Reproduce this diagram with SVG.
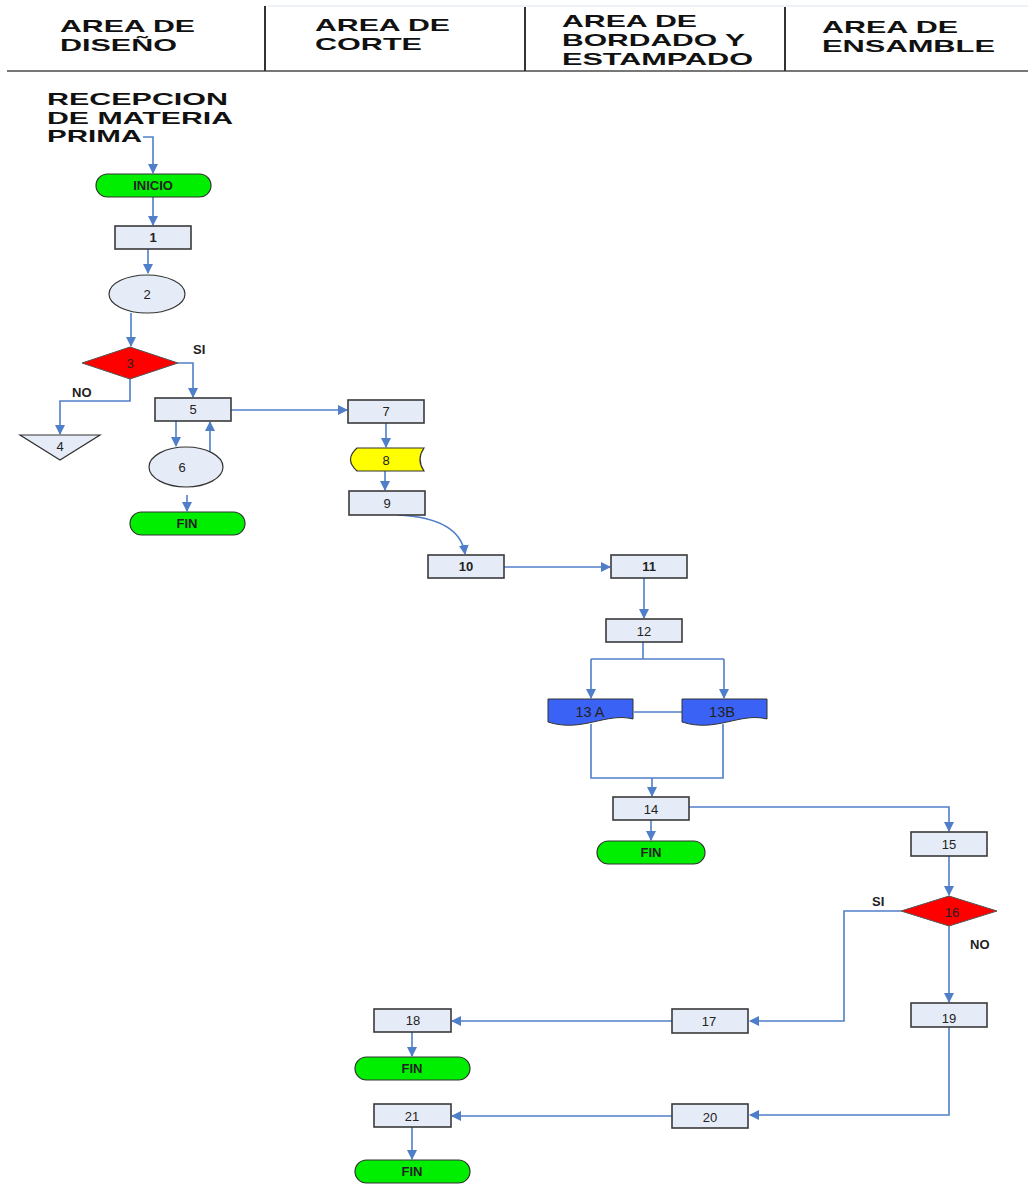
<svg xmlns="http://www.w3.org/2000/svg" width="1028" height="1184" viewBox="0 0 1028 1184">
<defs>
<marker id="ah" markerWidth="10" markerHeight="10" refX="9" refY="5" orient="auto" markerUnits="userSpaceOnUse">
<path d="M0,0 L10,5 L0,10 Z" fill="#4f7fc8"/>
</marker>
<style>
.hdr{font-family:"Liberation Sans",Arial,sans-serif;font-weight:bold;font-size:17px;fill:#111}
.rec{font-family:"Liberation Sans",Arial,sans-serif;font-weight:bold;font-size:16.5px;fill:#111}
.lbl{font-family:"Liberation Sans",Arial,sans-serif;font-weight:bold;font-size:13px;fill:#222}
.t{font-family:"Liberation Sans",Arial,sans-serif;font-size:13px;fill:#222;text-anchor:middle;dominant-baseline:central}
.tb{font-weight:bold}
.box{fill:#e6ecf7;stroke:#3a3a3a;stroke-width:1.6}
.term{fill:#00ee00;stroke:#333;stroke-width:1.2}
.circ{fill:#e6ecf7;stroke:#333;stroke-width:1.2}
.dia{fill:#ff0000;stroke:#555;stroke-width:1}
.doc{fill:#3a62f5;stroke:#333;stroke-width:1}
.c{fill:none;stroke:#4f7fc8;stroke-width:1.6}
.ca{fill:none;stroke:#4f7fc8;stroke-width:1.6;marker-end:url(#ah)}
</style>
</defs>
<rect width="1028" height="1184" fill="#fff"/>
<g id="header">
<line x1="7" y1="71" x2="1028" y2="71" stroke="#777" stroke-width="2"/>
<line x1="265" y1="6" x2="265" y2="71" stroke="#333" stroke-width="2"/>
<line x1="525" y1="6" x2="525" y2="71" stroke="#333" stroke-width="2"/>
<line x1="785" y1="6" x2="785" y2="71" stroke="#333" stroke-width="2"/>
<line x1="268" y1="6" x2="1028" y2="6" stroke="#eef1f7" stroke-width="2"/>
<text class="hdr" x="60" y="32" textLength="135" lengthAdjust="spacingAndGlyphs">AREA DE</text>
<text class="hdr" x="60" y="51" textLength="117" lengthAdjust="spacingAndGlyphs">DISEÑO</text>
<text class="hdr" x="315" y="31" textLength="135" lengthAdjust="spacingAndGlyphs">AREA DE</text>
<text class="hdr" x="315" y="50" textLength="107" lengthAdjust="spacingAndGlyphs">CORTE</text>
<text class="hdr" x="562" y="27" textLength="135" lengthAdjust="spacingAndGlyphs">AREA DE</text>
<text class="hdr" x="562" y="46" textLength="183" lengthAdjust="spacingAndGlyphs">BORDADO Y</text>
<text class="hdr" x="562" y="65" textLength="191" lengthAdjust="spacingAndGlyphs">ESTAMPADO</text>
<text class="hdr" x="822" y="33" textLength="136" lengthAdjust="spacingAndGlyphs">AREA DE</text>
<text class="hdr" x="822" y="52" textLength="173" lengthAdjust="spacingAndGlyphs">ENSAMBLE</text>
</g>
<g id="recepcion">
<text class="rec" x="47" y="105" textLength="181" lengthAdjust="spacingAndGlyphs">RECEPCION</text>
<text class="rec" x="47" y="124" textLength="186" lengthAdjust="spacingAndGlyphs">DE MATERIA</text>
<text class="rec" x="47" y="142" textLength="95" lengthAdjust="spacingAndGlyphs">PRIMA</text>
</g>
<g id="connectors">
<path class="ca" d="M143,137 H153 V173"/>
<path class="ca" d="M153,197 V225"/>
<path class="ca" d="M148,249 V273"/>
<path class="ca" d="M131,313 V346"/>
<path class="ca" d="M178,363 H193 V397"/>
<path class="ca" d="M130,379 V401 H60 V434"/>
<path class="ca" d="M231,410 H347"/>
<path class="ca" d="M176,421 V446"/>
<path class="ca" d="M210,455 V422"/>
<path class="ca" d="M187,495 V511"/>
<path class="ca" d="M386,423 V447"/>
<path class="ca" d="M385,471 V490"/>
<path class="ca" d="M398,515 Q460,518 465,554"/>
<path class="ca" d="M504,567 H610"/>
<path class="ca" d="M644,578 V618"/>
<path class="c" d="M643,642 V659"/>
<path class="c" d="M591,659 H724"/>
<path class="ca" d="M591,659 V698"/>
<path class="ca" d="M724,659 V698"/>
<path class="c" d="M634,712 H682"/>
<path class="c" d="M591,724 V778 H723 V724"/>
<path class="ca" d="M652,778 V796"/>
<path class="ca" d="M651,820 V840"/>
<path class="ca" d="M689,807 H949 V831"/>
<path class="ca" d="M949,856 V895"/>
<path class="ca" d="M901,911 H844 V1021 H750"/>
<path class="ca" d="M949,926 V1002"/>
<path class="ca" d="M672,1021 H452"/>
<path class="ca" d="M412,1032 V1056"/>
<path class="ca" d="M949,1027 V1115 H750"/>
<path class="ca" d="M672,1116 H452"/>
<path class="ca" d="M412,1127 V1159"/>
</g>
<g id="labels">
<text class="lbl" x="193" y="354">SI</text>
<text class="lbl" x="72" y="397">NO</text>
<text class="lbl" x="872" y="906">SI</text>
<text class="lbl" x="970" y="949">NO</text>
</g>
<g id="n-inicio"><rect class="term" x="96" y="174" width="115" height="23" rx="11.5"/><text class="t tb" x="153" y="185.5">INICIO</text></g>
<g id="n1"><rect class="box" x="115" y="226" width="76" height="23"/><text class="t tb" x="153" y="237.5">1</text></g>
<g id="n2"><ellipse class="circ" cx="147" cy="294" rx="38" ry="19"/><text class="t" x="147" y="294.5">2</text></g>
<g id="n3"><polygon class="dia" points="82,363 130,347 178,363 130,379"/><text class="t" x="130" y="363.5">3</text></g>
<g id="n4"><polygon class="circ" points="20,435 100,435 60,460"/><text class="t" x="60" y="446">4</text></g>
<g id="n5"><rect class="box" x="155" y="398" width="76" height="23"/><text class="t" x="193" y="409.5">5</text></g>
<g id="n6"><ellipse class="circ" cx="186" cy="467" rx="37" ry="20"/><text class="t" x="182" y="467.5">6</text></g>
<g id="n-fin1"><rect class="term" x="130" y="512" width="115" height="23" rx="11.5"/><text class="t tb" x="187" y="523">FIN</text></g>
<g id="n7"><rect class="box" x="348" y="400" width="76" height="23"/><text class="t" x="386" y="411.5">7</text></g>
<g id="n8"><path d="M357,448 H424 Q416,459.5 424,471 H357 Q344,459.5 357,448 Z" fill="#ffff00" stroke="#333" stroke-width="1.2"/><text class="t" x="386" y="460">8</text></g>
<g id="n9"><rect class="box" x="349" y="491" width="76" height="24"/><text class="t" x="387" y="503">9</text></g>
<g id="n10"><rect class="box" x="428" y="555" width="76" height="23"/><text class="t tb" x="466" y="566.5">10</text></g>
<g id="n11"><rect class="box" x="611" y="555" width="76" height="23"/><text class="t tb" x="649" y="566.5">11</text></g>
<g id="n12"><rect class="box" x="606" y="619" width="76" height="23"/><text class="t" x="644" y="631">12</text></g>
<g id="n13a"><path class="doc" d="M548,699 H633 V719 C606,712 582,733 548,722 Z"/><text class="t" style="font-size:14.5px" x="590" y="711.5">13 A</text></g>
<g id="n13b"><path class="doc" d="M682,699 H767 V719 C740,712 716,733 682,722 Z"/><text class="t" style="font-size:14.5px" x="722" y="712">13B</text></g>
<g id="n14"><rect class="box" x="613" y="797" width="76" height="23"/><text class="t" x="651" y="809">14</text></g>
<g id="n-fin2"><rect class="term" x="597" y="841" width="108" height="23" rx="11.5"/><text class="t tb" x="651" y="852">FIN</text></g>
<g id="n15"><rect class="box" x="911" y="832" width="76" height="24"/><text class="t" x="949" y="844.5">15</text></g>
<g id="n16"><polygon class="dia" points="901,911 949,896 997,911 949,926"/><text class="t" x="952" y="912.5">16</text></g>
<g id="n17"><rect class="box" x="672" y="1009" width="76" height="24"/><text class="t" x="709" y="1021.5">17</text></g>
<g id="n18"><rect class="box" x="374" y="1009" width="77" height="23"/><text class="t" x="413" y="1020">18</text></g>
<g id="n-fin3"><rect class="term" x="355" y="1057" width="115" height="23" rx="11.5"/><text class="t tb" x="412" y="1068">FIN</text></g>
<g id="n19"><rect class="box" x="911" y="1003" width="76" height="24"/><text class="t" x="949" y="1018">19</text></g>
<g id="n20"><rect class="box" x="672" y="1104" width="76" height="24"/><text class="t" x="710" y="1117">20</text></g>
<g id="n21"><rect class="box" x="374" y="1104" width="77" height="23"/><text class="t" x="412" y="1116">21</text></g>
<g id="n-fin4"><rect class="term" x="355" y="1160" width="115" height="23" rx="11.5"/><text class="t tb" x="412" y="1171">FIN</text></g>
</svg>
